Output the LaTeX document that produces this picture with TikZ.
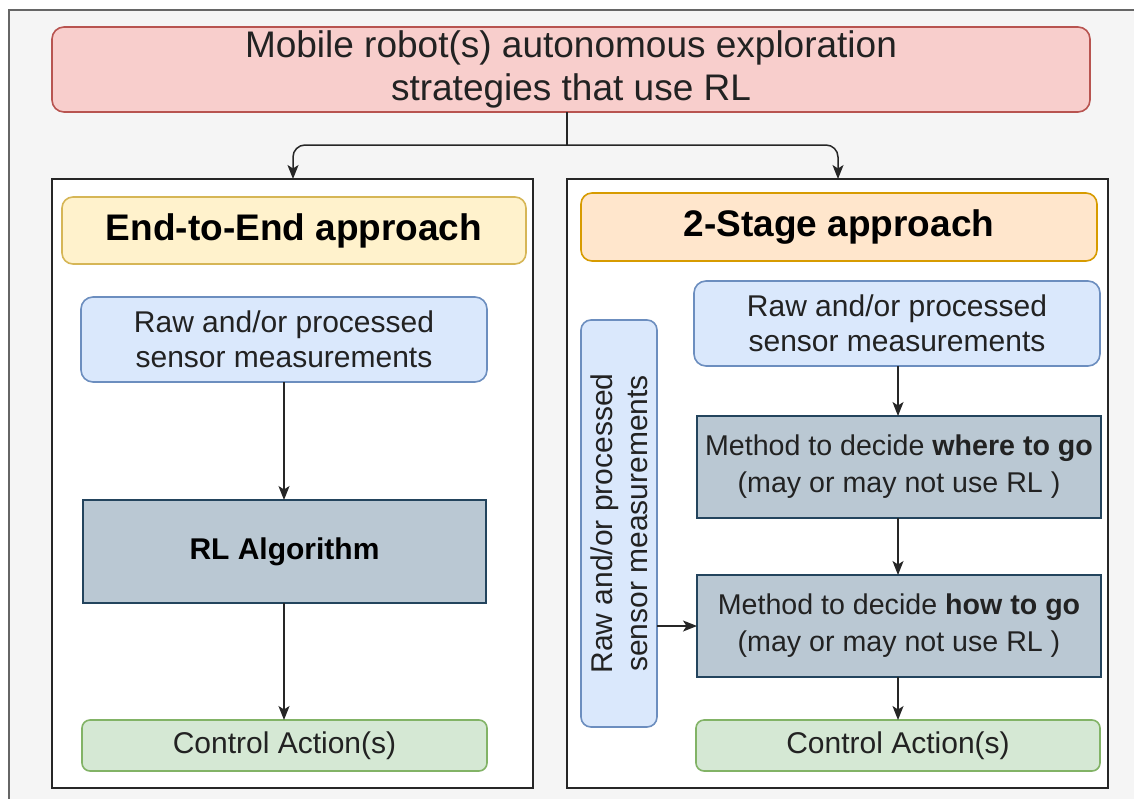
\documentclass[tikz,border=0pt]{standalone}
\usepackage{fontspec}
\setmainfont{Liberation Sans}
\usetikzlibrary{arrows.meta,calc}
\definecolor{bgfill}{HTML}{F5F5F5}
\definecolor{bgline}{HTML}{666666}
\definecolor{redfill}{HTML}{F8CECC}
\definecolor{redline}{HTML}{B85450}
\definecolor{yelfill}{HTML}{FFF2CC}
\definecolor{yelline}{HTML}{D6B656}
\definecolor{orafill}{HTML}{FFE6CC}
\definecolor{oraline}{HTML}{D79B00}
\definecolor{blufill}{HTML}{DAE8FC}
\definecolor{bluline}{HTML}{6C8EBF}
\definecolor{gryfill}{HTML}{BAC8D3}
\definecolor{gryline}{HTML}{23445D}
\definecolor{grnfill}{HTML}{D5E8D4}
\definecolor{grnline}{HTML}{82B366}
\definecolor{txt}{HTML}{222222}
\begin{document}
\begin{tikzpicture}[x=1pt,y=-1pt,
  base/.style={inner sep=0pt, outer sep=0pt, align=center, text=txt, line width=1.6pt},
  titlebox/.style={base, rounded corners=12pt, fill=redfill, draw=redline,
     font=\fontsize{37}{43}\selectfont},
  container/.style={base, fill=white, draw=black!85, line width=1.8pt},
  headyel/.style={base, rounded corners=11pt, fill=yelfill, draw=yelline,
     font=\fontsize{37}{43}\selectfont\bfseries, text=black},
  headora/.style={base, rounded corners=11pt, fill=orafill, draw=oraline,
     font=\fontsize{37}{43}\selectfont\bfseries, text=black},
  bluebox/.style={base, rounded corners=12pt, fill=blufill, draw=bluline,
     font=\fontsize{30}{35}\selectfont},
  graybox/.style={base, fill=gryfill, draw=gryline, line width=1.4pt,
     font=\fontsize{28.6}{37}\selectfont},
  greenbox/.style={base, rounded corners=8pt, fill=grnfill, draw=grnline,
     font=\fontsize{30}{35}\selectfont},
  conn/.style={draw=black!85, line width=1.5pt, -{Stealth[length=14pt,width=11pt,inset=3.5pt]}},
  plainline/.style={draw=black!85, line width=1.5pt},
]
\useasboundingbox (0,0) rectangle (1134,798);
\fill[white] (0,0) rectangle (1134,798);
\draw[fill=bgfill, draw=bgline, line width=2.2pt] (9,10) rectangle (1150,812);

% title
\node[titlebox, minimum width=1038pt, minimum height=85pt] (title) at (571,69.5)
  {Mobile robot(s) autonomous exploration\\strategies that use RL};

% containers
\node[container, minimum width=481pt, minimum height=609pt] (lc) at (292.5,483.5) {};
\node[container, minimum width=541pt, minimum height=609pt] (rc) at (837.5,483.5) {};

% headers
\node[headyel, minimum width=464pt, minimum height=67pt] (e2e) at (294,230.5) {End-to-End approach};
\node[headora, minimum width=516pt, minimum height=68pt] (two) at (839,227) {2-Stage approach};

% left column
\node[bluebox, minimum width=406pt, minimum height=85pt] (lraw) at (284,339.5)
  {Raw and/or processed\\sensor measurements};
\node[graybox, minimum width=403pt, minimum height=103pt, font=\fontsize{30}{35}\selectfont\bfseries, text=black] (rl) at (284.5,551.5)
  {RL Algorithm};
\node[greenbox, minimum width=405pt, minimum height=51pt] (lctl) at (284.5,745.5)
  {Control Action(s)};

% right column
\node[bluebox, minimum width=406pt, minimum height=85pt] (rraw) at (897,323.5)
  {Raw and/or processed\\sensor measurements};
\node[bluebox, rounded corners=10pt, rotate=90, minimum width=407pt, minimum height=76pt] (vraw) at (619,523.5)
  {Raw and/or processed\\sensor measurements};
\node[graybox, minimum width=404pt, minimum height=102pt] (where) at (899,467)
  {Method to decide \textbf{where to go}\\(may or may not use RL )};
\node[graybox, minimum width=404pt, minimum height=102pt] (how) at (899,626)
  {Method to decide \textbf{how to go}\\(may or may not use RL )};
\node[greenbox, minimum width=404pt, minimum height=51pt] (rctl) at (898,745.5)
  {Control Action(s)};

% split connector
\coordinate (split) at (567,145);
\coordinate (ltop) at (293,179);
\coordinate (rtop) at (838,179);
\coordinate (rx) at (898,0);
\draw[plainline] (title.south -| split) -- (split);
\draw[conn, rounded corners=12pt] (split) -- (split -| ltop) -- (ltop);
\draw[conn, rounded corners=12pt] (split) -- (split -| rtop) -- (rtop);

% left arrows
\draw[conn] (lraw.south) -- (lraw.south |- rl.north);
\draw[conn] (rl.south -| lraw.south) -- (lraw.south |- lctl.north);

% right arrows
\draw[conn] (rraw.south -| rx) -- (rx |- where.north);
\draw[conn] (where.south -| rx) -- (rx |- how.north);
\draw[conn] (how.south -| rx) -- (rx |- rctl.north);
\draw[conn] (vraw.south |- how.west) -- (how.west);
\end{tikzpicture}
\end{document}
